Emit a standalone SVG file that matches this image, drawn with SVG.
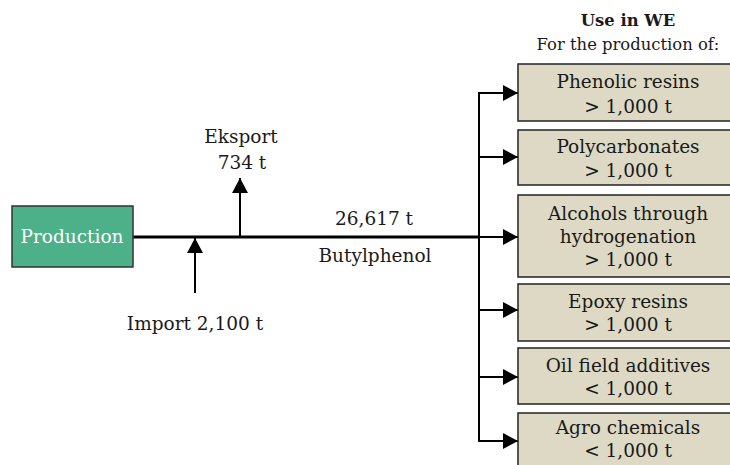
<svg xmlns="http://www.w3.org/2000/svg" width="730" height="465" viewBox="0 0 730 465">
<style>
text{font-family:"DejaVu Serif","Liberation Serif",serif;font-size:18.5px;fill:#1a1a1a;text-anchor:middle}
.use{fill:#ddd9c4;stroke:#222;stroke-width:1.5}
.prod{fill:#4cb088;stroke:#333;stroke-width:1.5}
.ln{stroke:#000;stroke-width:2;fill:none}
.main{stroke:#000;stroke-width:3;fill:none}
.hdr{font-size:16.4px}
</style>
<defs>
<marker id="ah" markerUnits="userSpaceOnUse" markerWidth="16" markerHeight="16" refX="15" refY="8" orient="auto">
<path d="M0,0 L15,8 L0,16 Z" fill="#000"/>
</marker>
</defs>
<g id="header">
<text x="628" y="26" class="hdr" style="font-weight:bold">Use in WE</text>
<text x="628" y="50" class="hdr">For the production of:</text>
</g>
<g id="connectors">
<line class="main" x1="133" y1="237" x2="480" y2="237"/>
<line class="ln" x1="195" y1="293" x2="195" y2="238" marker-end="url(#ah)"/>
<line class="ln" x1="240" y1="237" x2="240" y2="178" marker-end="url(#ah)"/>
<line class="ln" x1="479" y1="93" x2="479" y2="441"/>
<line class="ln" x1="478" y1="93" x2="518" y2="93" marker-end="url(#ah)"/>
<line class="ln" x1="478" y1="157" x2="518" y2="157" marker-end="url(#ah)"/>
<line class="ln" x1="478" y1="237" x2="518" y2="237" marker-end="url(#ah)"/>
<line class="ln" x1="478" y1="310" x2="518" y2="310" marker-end="url(#ah)"/>
<line class="ln" x1="478" y1="377" x2="518" y2="377" marker-end="url(#ah)"/>
<line class="ln" x1="478" y1="441" x2="518" y2="441" marker-end="url(#ah)"/>
</g>
<g id="labels">
<text x="241" y="143">Eksport</text>
<text x="242" y="169">734 t</text>
<text x="195" y="330">Import 2,100 t</text>
<text x="374" y="225">26,617 t</text>
<text x="375" y="262">Butylphenol</text>
</g>
<g id="production">
<rect class="prod" x="12" y="206" width="121" height="61"/>
<text x="72" y="243" style="fill:#fff">Production</text>
</g>
<g id="phenolic">
<rect class="use" x="518" y="64" width="222" height="57"/>
<text x="628" y="88">Phenolic resins</text>
<text x="628" y="113">&gt; 1,000 t</text>
</g>
<g id="polycarbonates">
<rect class="use" x="518" y="130" width="222" height="55"/>
<text x="628" y="153">Polycarbonates</text>
<text x="628" y="177">&gt; 1,000 t</text>
</g>
<g id="alcohols">
<rect class="use" x="518" y="195" width="222" height="82"/>
<text x="628" y="220">Alcohols through</text>
<text x="628" y="243">hydrogenation</text>
<text x="628" y="266">&gt; 1,000 t</text>
</g>
<g id="epoxy">
<rect class="use" x="518" y="284" width="222" height="57"/>
<text x="628" y="308">Epoxy resins</text>
<text x="628" y="331">&gt; 1,000 t</text>
</g>
<g id="oilfield">
<rect class="use" x="518" y="348" width="222" height="56"/>
<text x="628" y="372">Oil field additives</text>
<text x="628" y="395">&lt; 1,000 t</text>
</g>
<g id="agro">
<rect class="use" x="518" y="413" width="222" height="60"/>
<text x="628" y="434">Agro chemicals</text>
<text x="628" y="457">&lt; 1,000 t</text>
</g>
</svg>
